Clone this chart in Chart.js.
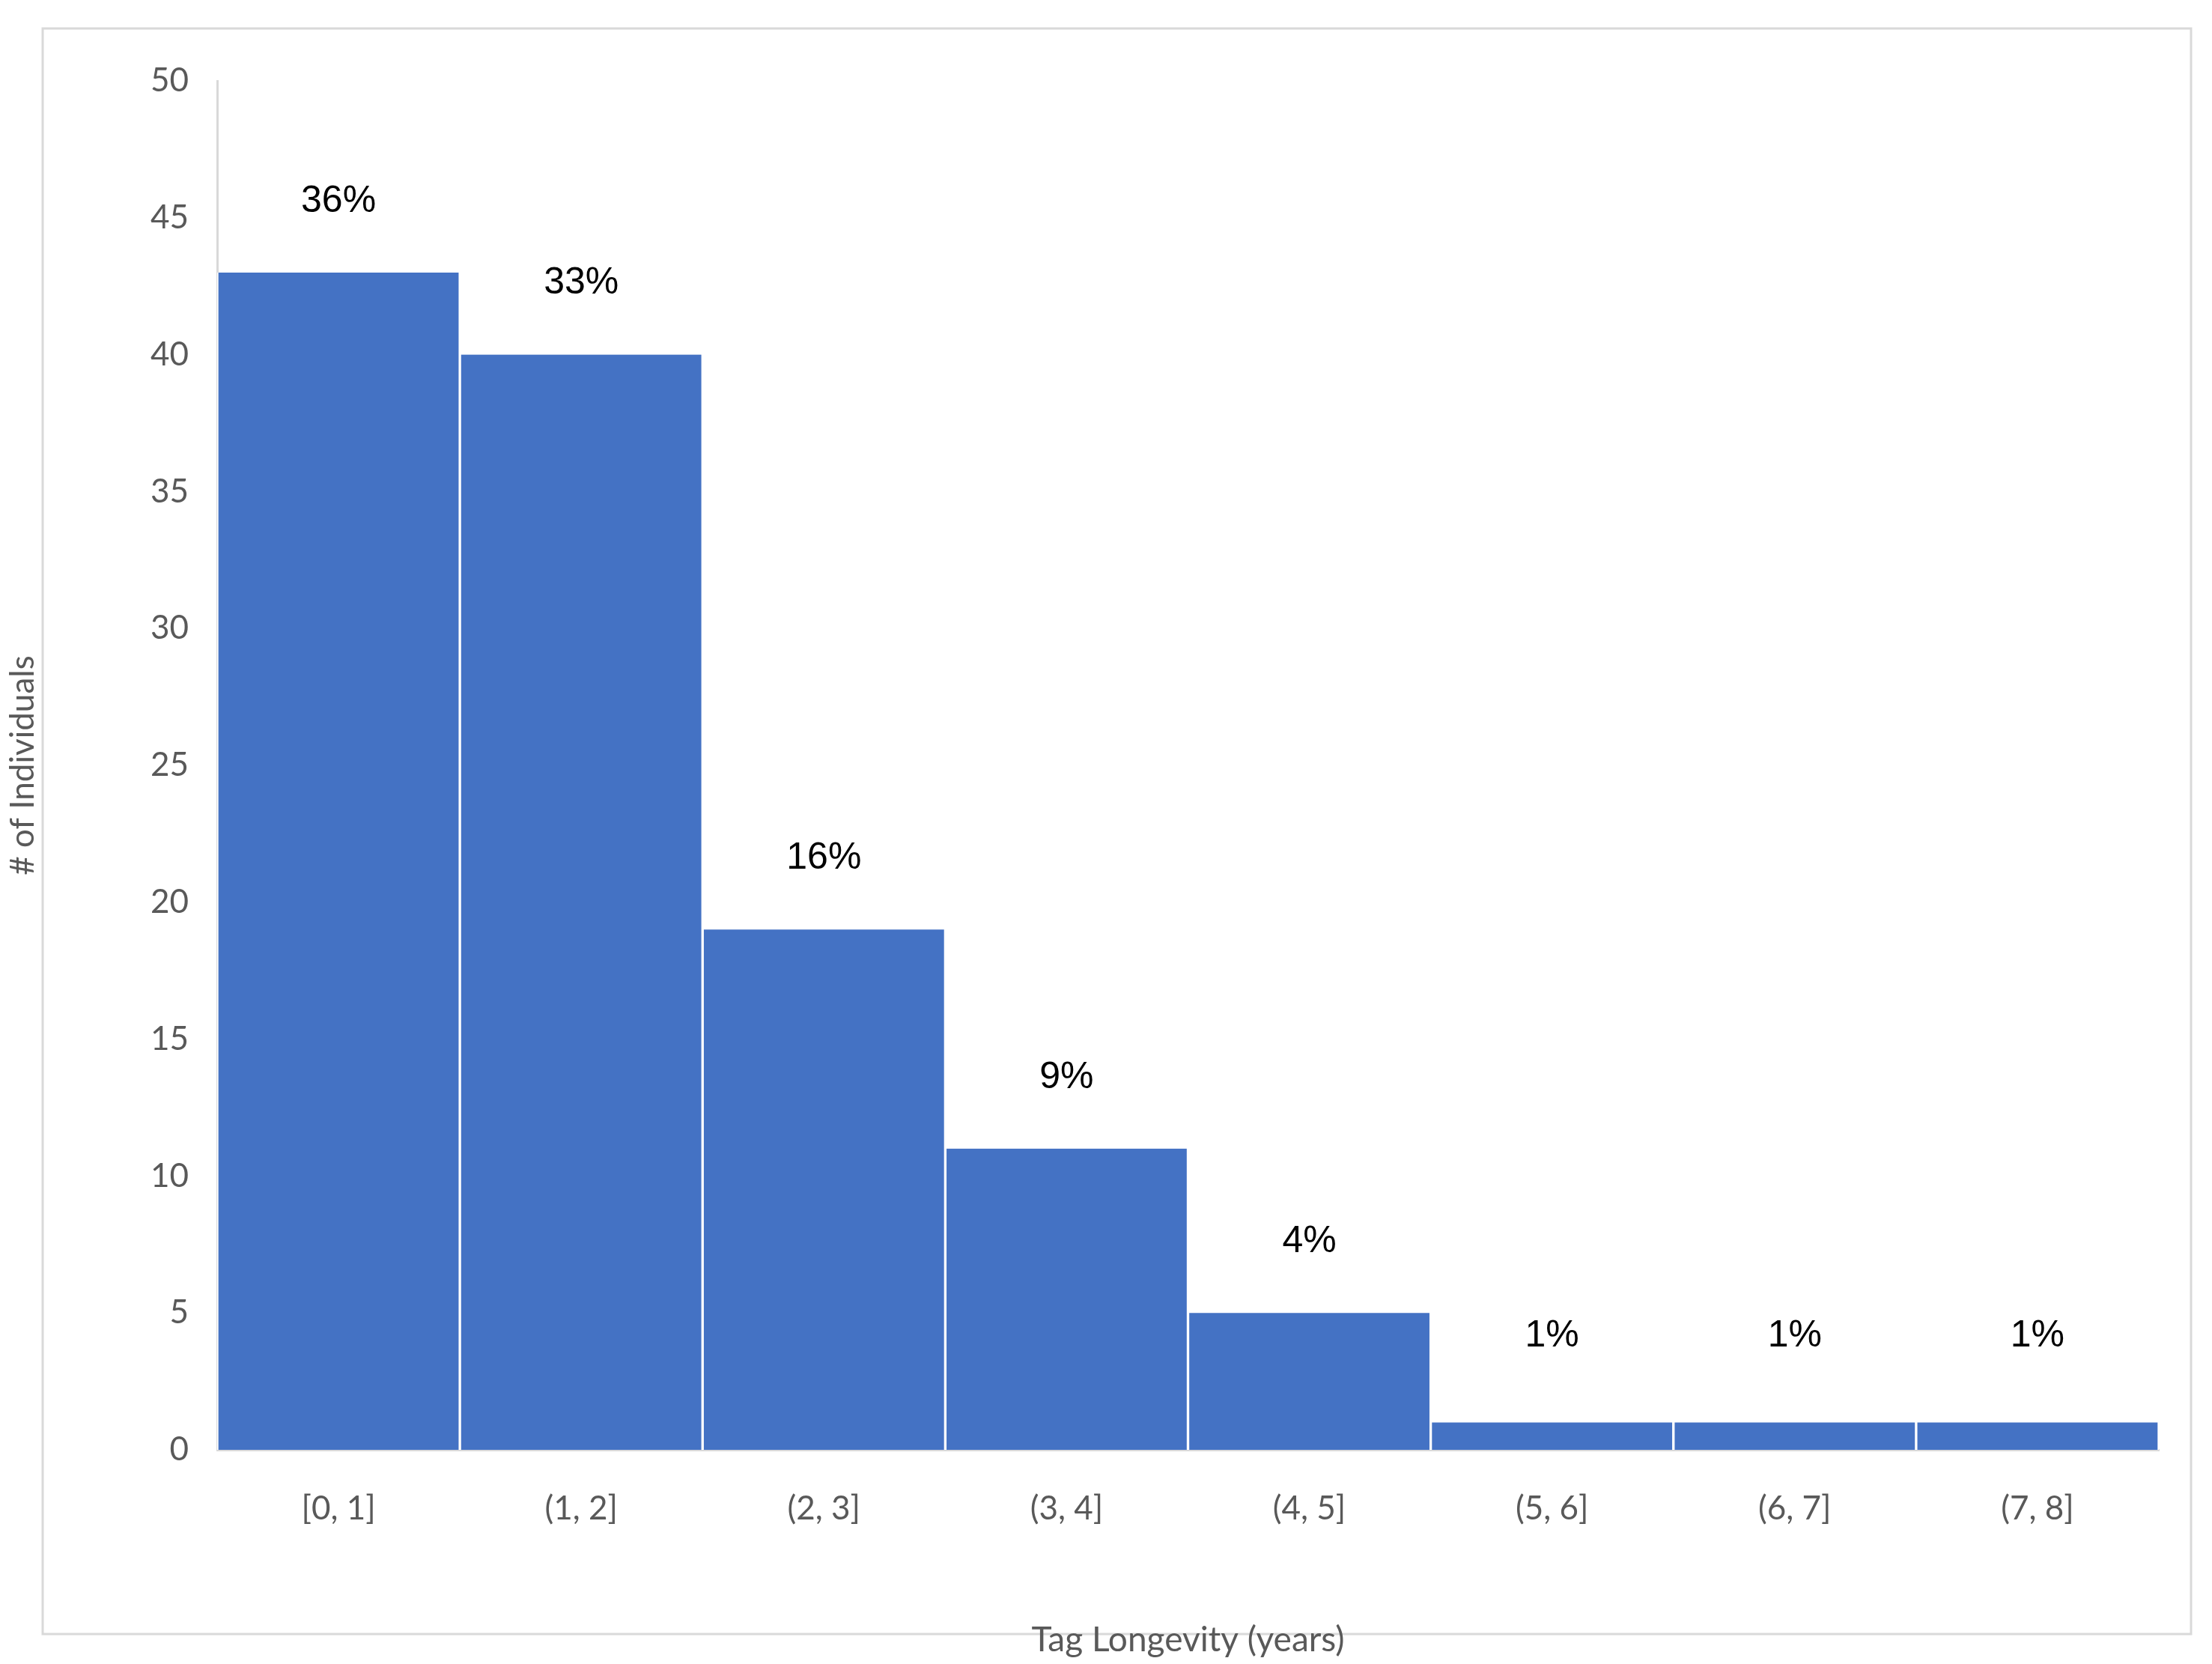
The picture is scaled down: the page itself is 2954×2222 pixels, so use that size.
<!DOCTYPE html>
<html><head><meta charset="utf-8">
<script src="https://cdn.jsdelivr.net/npm/chart.js@4"></script>
<style>html,body{margin:0;padding:0;background:#fff;}#w{position:absolute;left:0;top:0;width:2954px;height:2222px;}</style>
</head><body><div id="w"><canvas id="c"></canvas></div>
<script>
const categories = ["[0, 1]","(1, 2]","(2, 3]","(3, 4]","(4, 5]","(5, 6]","(6, 7]","(7, 8]"];
const counts = [43, 40, 19, 11, 5, 1, 1, 1];
const percentLabels = ["36%","33%","16%","9%","4%","1%","1%","1%"];
const yTicks = [0,5,10,15,20,25,30,35,40,45,50];

const frame = {id:'frame', beforeDraw(ch){const g=ch.ctx;g.save();g.fillStyle='#fff';g.fillRect(0,0,ch.width,ch.height);g.strokeStyle='#d9d9d9';g.lineWidth=3;g.strokeRect(57,38,2869,2144);g.restore();}};
const labels = {id:'pct', afterDatasetsDraw(ch){const g=ch.ctx;const m=ch.getDatasetMeta(0);g.save();g.fillStyle='#000';g.font='50px "Liberation Sans", Arial';g.textAlign='center';g.textBaseline='bottom';
 m.data.forEach((b,i)=>{const off = i<5 ? 70 : 90; g.fillText(percentLabels[i], b.x, b.y-off);});g.restore();}};

new Chart(document.getElementById('c'),{
 type:'bar',
 data:{labels:categories,datasets:[{data:counts,backgroundColor:'#4472C4',borderColor:'#ffffff',borderWidth:{left:2,right:2,top:0,bottom:0},barPercentage:1,categoryPercentage:1}]},
 options:{responsive:true,maintainAspectRatio:false,animation:false,devicePixelRatio:1,
  layout:{padding:{left:0,right:71,top:108,bottom:0}},
  plugins:{legend:{display:false},tooltip:{enabled:false}},
  scales:{
   x:{grid:{display:false,drawTicks:false},border:{color:'#d9d9d9',width:3},
      ticks:{color:'#595959',font:{family:'Lato',size:44},padding:52},
      title:{display:true,text:'Tag Longevity (years)',color:'#595959',font:{family:'Lato',size:46},padding:{top:40}},
      afterFit(s){s.height=286;}},
   y:{min:0,max:50,grid:{display:false,drawTicks:false},border:{color:'#d9d9d9',width:3},
      afterBuildTicks(s){s.ticks=yTicks.map(v=>({value:v}));},
      ticks:{color:'#595959',font:{family:'Lato',size:44},padding:38},
      title:{display:true,text:'# of Individuals',color:'#595959',font:{family:'Lato',size:44},padding:{bottom:40}},
      afterFit(s){s.width=290;}}
  }},
 plugins:[frame,labels]
});
</script></body></html>
